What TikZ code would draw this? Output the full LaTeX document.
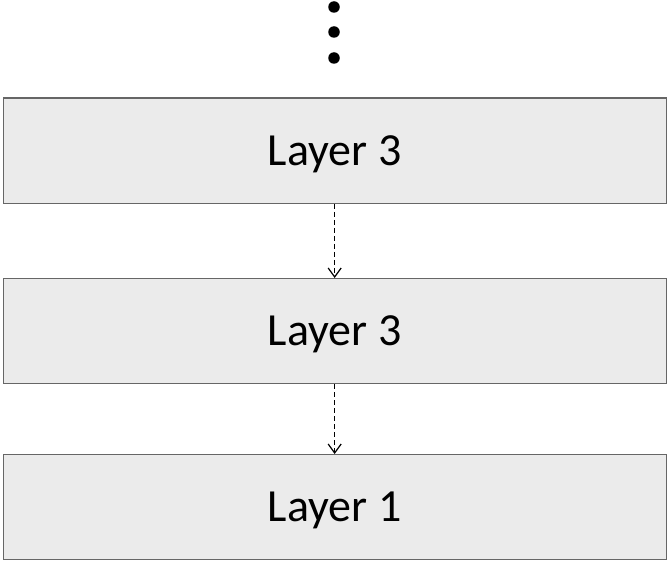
\documentclass[tikz,border=0pt]{standalone}
\usepackage{fontspec}
\setmainfont{Carlito}
\usetikzlibrary{arrows.meta}
\begin{document}
\begin{tikzpicture}[x=1pt,y=-1pt,
  layerbox/.style={draw=black!60,line width=1.3pt,fill=black!8,minimum width=663pt,minimum height=105pt,inner sep=0pt,text height=29.5pt,text depth=0pt,font=\fontsize{46}{50}\selectfont,anchor=north west},
  dotstyle/.style={circle,fill=black,inner sep=0pt,minimum width=10.5pt,minimum height=11.5pt},
  flow/.style={draw=black,line width=1.3pt,dash pattern=on 5pt off 3pt,-{Straight Barb[length=9pt,width=13pt,line width=1.2pt]}}]
\useasboundingbox (0,0) rectangle (668,564);
\node[dotstyle] (d1) at (334,7) {};
\node[dotstyle] (d2) at (334,32) {};
\node[dotstyle] (d3) at (334,58) {};
\node[layerbox] (l3a) at (2.5,97.5) {Layer 3};
\node[layerbox] (l3b) at (2.5,278) {Layer 3};
\node[layerbox] (l1) at (2.5,454) {Layer 1};
\draw[flow] (l3a.south) -- (l3b.north);
\draw[flow] (l3b.south) -- (l1.north);
\end{tikzpicture}
\end{document}
